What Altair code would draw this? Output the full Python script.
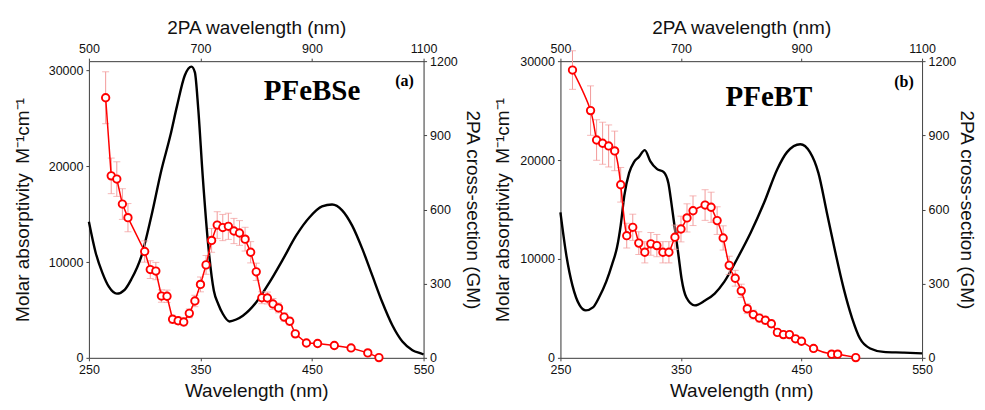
import altair as alt
import pandas as pd

# ---------------- data ----------------
# Panel (a) PFeBSe : 1PA absorption (black)
abs_wl_a = [250, 256, 262, 268, 275, 282, 288, 297, 306, 315, 323, 329, 336, 342, 345, 348,
            352, 357, 362, 366, 370, 376, 382, 388, 400, 412, 424, 436, 448, 459, 468, 477,
            486, 495, 504, 513, 522, 531, 540, 549, 550]
abs_val_a = [14200, 11000, 8900, 7400, 6700, 7100, 8200, 10600, 14800, 19600, 23200, 26300,
             29500, 30400, 29800, 26000, 19000, 11700, 7000, 5600, 4600, 3800, 4000, 4400,
             5800, 7900, 10300, 12800, 14700, 15800, 16000, 15400, 13800, 11400, 8600, 5800,
             3400, 1700, 800, 400, 350]
# Panel (a) 2PA cross-section (red)
tpa_wl_a = [530, 540, 550, 560, 570, 600, 610, 620, 630, 640, 650, 660, 670, 680, 690, 700,
            710, 720, 730, 740, 750, 760, 770, 780, 790, 800, 810, 820, 830, 840, 850, 860,
            870, 890, 910, 940, 970, 1000, 1020]
tpa_gm_a = [1052, 736, 723, 622, 567, 430, 357, 351, 250, 249, 156, 150, 145, 180, 230, 297,
            376, 475, 537, 527, 532, 513, 505, 480, 427, 348, 243, 242, 218, 202, 165, 148,
            97, 60, 58, 50, 40, 20, 1]
tpa_err_a = [105, 72, 70, 62, 57, 43, 36, 35, 25, 25, 16, 15, 15, 18, 23, 30,
             38, 48, 54, 53, 53, 51, 50, 48, 43, 35, 24, 24, 22, 20, 17, 15,
             10, 6, 6, 5, 4, 2, 0]

# Panel (b) PFeBT : 1PA absorption (black)
abs_wl_b = [250, 255, 260, 266, 271, 277, 282, 288, 293, 297, 300, 303, 307, 311, 315, 320,
            324.5, 330, 335.5, 339.5, 342, 345, 348, 350.5, 354.5, 361.5, 370, 378, 386, 397,
            408, 419, 430, 438, 449, 457, 464, 471, 478, 485, 492, 498.5, 507, 518, 534, 550]
abs_val_b = [14700, 10300, 7300, 5300, 4800, 5100, 6100, 7700, 9500, 11200, 13400, 16400,
             18700, 19800, 20300, 21000, 19900, 19100, 18800, 17700, 15700, 13000, 10300,
             8000, 6100, 5300, 5800, 6500, 7700, 10100, 12700, 15700, 19100, 20800, 21600,
             20800, 18700, 14700, 10700, 7000, 4000, 1950, 940, 600, 530, 450]
# Panel (b) 2PA cross-section (red)
tpa_wl_b = [520, 550, 560, 570, 580, 590, 600, 610, 620, 630, 640, 650, 660, 670, 680, 690,
            700, 710, 720, 740, 750, 760, 770, 780, 790, 800, 810, 820, 830, 840, 850, 860,
            870, 880, 890, 900, 920, 950, 960, 990]
tpa_gm_b = [1164, 1000, 881, 868, 857, 837, 700, 494, 528, 464, 427, 461, 454, 427, 427, 488,
            521, 566, 595, 618, 609, 555, 485, 374, 322, 271, 199, 175, 161, 152, 138, 103,
            94, 94, 77, 67, 38, 15, 15, 1]
tpa_err_b = [78, 100, 82, 85, 85, 80, 70, 50, 53, 46, 43, 46, 45, 43, 43, 49,
             52, 57, 60, 62, 61, 56, 49, 37, 32, 27, 20, 18, 16, 15, 14, 10,
             9, 9, 8, 7, 4, 2, 2, 0]

# panel annotations (placed in 1PA wavelength / absorptivity data units)
name_a = ["PFeBSe"]; name_a_x = [450]; name_a_y = [26950]
tag_a = ["(a)"]; tag_a_x = [533]; tag_a_y = [28860]
name_b = ["PFeBT"]; name_b_x = [423]; name_b_y = [25500]
tag_b = ["(b)"]; tag_b_x = [535]; tag_b_y = [27850]

bottom_ticks = [250, 350, 450, 550]
top_ticks = [500, 700, 900, 1100]
left_ticks = [0, 10000, 20000, 30000]
right_ticks = [0, 300, 600, 900, 1200]

FONT = "Liberation Sans"
SERIF = "Liberation Serif"
AX = dict(grid=False, domainColor="#444", tickColor="#444", labelColor="#111",
          titleColor="#111", labelFont=FONT, titleFont=FONT, labelFontSize=12.5,
          titleFontSize=19, titleFontWeight="normal", tickSize=3, domainWidth=1,
          labelFlush=False, format="d", labelPadding=3)


def panel(abs_wl, abs_val, wl2, gm, err, nm, nmx, nmy, tg, tgx, tgy,
          ymax, width, red_interp, left_tp, right_tp):
    xb = alt.X("wl:Q", scale=alt.Scale(domain=[250, 550], nice=False),
               axis=alt.Axis(orient="bottom", values=bottom_ticks, title="Wavelength (nm)",
                             titlePadding=5, **AX))
    yl = alt.Y("v:Q", scale=alt.Scale(domain=[0, ymax], nice=False),
               axis=alt.Axis(orient="left", values=left_ticks,
                             title="Molar absorptivity\u2002M\u207b\u00b9cm\u207b\u00b9",
                             titlePadding=left_tp, **AX))
    black = alt.Chart(pd.DataFrame({"wl": abs_wl, "v": abs_val})).mark_line(
        color="black", strokeWidth=2.4, interpolate="monotone").encode(x=xb, y=yl)
    t1 = alt.Chart(pd.DataFrame({"wl": nmx, "v": nmy, "t": nm})).mark_text(
        font=SERIF, fontWeight="bold", fontSize=29, color="black", baseline="alphabetic",
        align="center").encode(x=xb, y=yl, text="t:N")
    t2 = alt.Chart(pd.DataFrame({"wl": tgx, "v": tgy, "t": tg})).mark_text(
        font=SERIF, fontWeight="bold", fontSize=16, color="black", baseline="middle",
        align="center").encode(x=xb, y=yl, text="t:N")
    base = alt.layer(black, t1, t2)

    df = pd.DataFrame({"wl2": wl2, "gm": gm, "err": err})
    df["lo"] = df["gm"] - df["err"]
    df["hi"] = df["gm"] + df["err"]
    xt = alt.X("wl2:Q", scale=alt.Scale(domain=[500, 1100], nice=False),
               axis=alt.Axis(orient="top", values=top_ticks, title="2PA wavelength (nm)",
                             titlePadding=5, **AX))
    yr_axis = alt.Axis(orient="right", values=right_ticks, title="2PA cross-section (GM)",
                       titlePadding=right_tp, **AX)
    ysc = alt.Scale(domain=[0, 1200], nice=False)
    rb = alt.Chart(df)
    ecol = "#f29a9a"
    bars = rb.mark_rule(color=ecol, strokeWidth=1).encode(
        x=xt, y=alt.Y("lo:Q", scale=ysc, axis=yr_axis), y2="hi:Q")
    caplo = rb.mark_tick(color=ecol, thickness=1, size=7, orient="horizontal").encode(
        x=xt, y=alt.Y("lo:Q", scale=ysc, axis=yr_axis))
    caphi = rb.mark_tick(color=ecol, thickness=1, size=7, orient="horizontal").encode(
        x=xt, y=alt.Y("hi:Q", scale=ysc, axis=yr_axis))
    line = rb.mark_line(color="red", strokeWidth=1.5, interpolate=red_interp, clip=True).encode(
        x=xt, y=alt.Y("gm:Q", scale=ysc, axis=yr_axis))
    pts = rb.mark_point(shape="circle", filled=True, fill="white", stroke="red",
                        strokeWidth=1.9, size=55, opacity=1).encode(
        x=xt, y=alt.Y("gm:Q", scale=ysc, axis=yr_axis))
    red = alt.layer(bars, caplo, caphi, line, pts)

    return alt.layer(base, red).resolve_scale(x="independent", y="independent").properties(
        width=width, height=297)


pa = panel(abs_wl_a, abs_val_a, tpa_wl_a, tpa_gm_a, tpa_err_a, name_a, name_a_x, name_a_y,
           tag_a, tag_a_x, tag_a_y, 30970, 335, "linear", 16, 5)
pb = panel(abs_wl_b, abs_val_b, tpa_wl_b, tpa_gm_b, tpa_err_b, name_b, name_b_x, name_b_y,
           tag_b, tag_b_x, tag_b_y, 30000, 362, "natural", 7, 1)

chart = alt.hconcat(pa, pb, spacing=10).properties(
    padding={"left": 4, "top": 9, "right": 0, "bottom": 0}
).configure_view(stroke="#444", strokeWidth=1).configure(background="white")

chart.save("out.html", embed_options={"renderer": "svg", "actions": False})
